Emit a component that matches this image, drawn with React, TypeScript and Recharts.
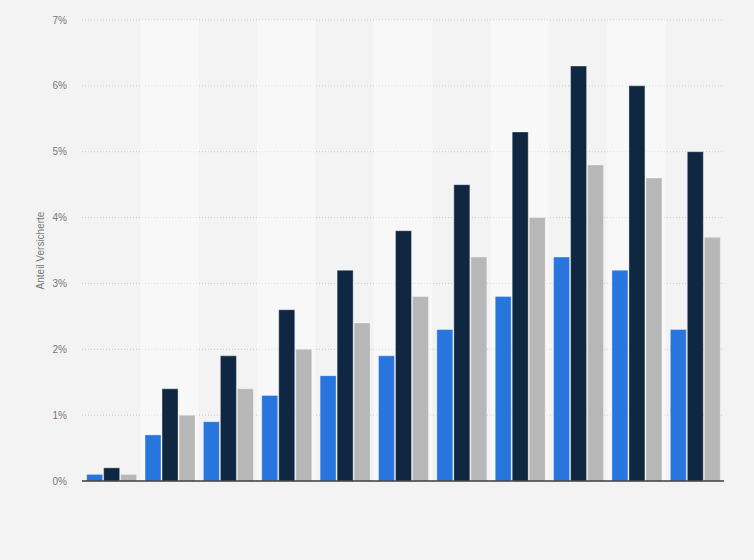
import { BarChart, Bar, XAxis, YAxis, CartesianGrid, ReferenceArea, ReferenceLine } from 'recharts';

// age groups are not labelled in the picture, only 11 groups
const categories = ['G1', 'G2', 'G3', 'G4', 'G5', 'G6', 'G7', 'G8', 'G9', 'G10', 'G11'];
const seriesBlue = [0.1, 0.7, 0.9, 1.3, 1.6, 1.9, 2.3, 2.8, 3.4, 3.2, 2.3];
const seriesDark = [0.2, 1.4, 1.9, 2.6, 3.2, 3.8, 4.5, 5.3, 6.3, 6.0, 5.0];
const seriesGray = [0.1, 1.0, 1.4, 2.0, 2.4, 2.8, 3.4, 4.0, 4.8, 4.6, 3.7];
const yTicks = [0, 1, 2, 3, 4, 5, 6, 7];

const data = categories.map((name, i) => ({
  name,
  blue: seriesBlue[i],
  dark: seriesDark[i],
  gray: seriesGray[i],
}));

// every second column gets a lighter band
const bandCategories = categories.filter((_, i) => i % 2 === 1);

export default function App() {
  return (
    <div
      style={{
        position: 'absolute',
        top: 0,
        left: 0,
        width: 754,
        height: 560,
        background: '#f3f3f3',
        fontFamily: '"Liberation Sans", Arial, sans-serif',
      }}
    >
      <BarChart
        width={754}
        height={560}
        data={data}
        margin={{ top: 20, right: 30, left: 0, bottom: 79 }}
        barCategoryGap="8%"
        barGap={1}
      >
        {bandCategories.map((c) => (
          <ReferenceArea
            key={c}
            x1={c}
            x2={c}
            y1={0}
            y2={7}
            fill="#ffffff"
            fillOpacity={0.45}
            stroke="none"
            ifOverflow="visible"
          />
        ))}
        <CartesianGrid
          vertical={false}
          stroke="#c8c8c8"
          strokeDasharray="1 2"
        />
        <XAxis
          dataKey="name"
          height={0}
          tick={false}
          tickLine={false}
          axisLine={false}
        />
        <YAxis
          width={82}
          domain={[0, 7]}
          ticks={yTicks}
          tickFormatter={(v: number) => `${v}%`}
          tick={{ fontSize: 10, fill: '#777777' }}
          tickLine={false}
          axisLine={false}
          tickMargin={9}
          label={{
            value: 'Anteil Versicherte',
            angle: -90,
            position: 'insideLeft',
            offset: 40,
            style: { fontSize: 10, fill: '#777777', textAnchor: 'middle' },
          }}
        />
        <Bar dataKey="blue" fill="#2876dd" stroke="#ffffff" strokeOpacity={0.35} isAnimationActive={false} />
        <Bar dataKey="dark" fill="#0f2741" stroke="#ffffff" strokeOpacity={0.35} isAnimationActive={false} />
        <Bar dataKey="gray" fill="#b7b7b7" stroke="#ffffff" strokeOpacity={0.35} isAnimationActive={false} />
        <ReferenceLine y={0} stroke="#3c3c3c" strokeWidth={1.5} />
      </BarChart>
    </div>
  );
}
